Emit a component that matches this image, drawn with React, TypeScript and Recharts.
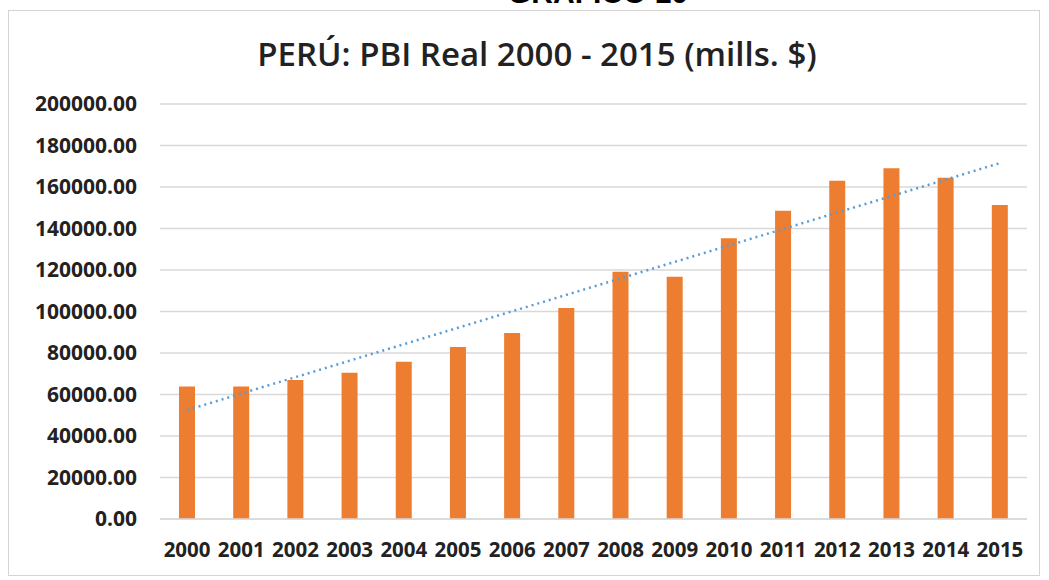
import React from 'react';
import { BarChart, Bar, XAxis, YAxis, CartesianGrid, ReferenceLine } from 'recharts';

const years = ['2000','2001','2002','2003','2004','2005','2006','2007','2008','2009','2010','2011','2012','2013','2014','2015'];
const pbi = [63900, 63900, 67000, 70500, 75800, 82900, 89600, 101700, 119200, 116800, 135300, 148600, 163000, 169000, 164500, 151300];
const yTicks = [0, 20000, 40000, 60000, 80000, 100000, 120000, 140000, 160000, 180000, 200000];
const trendStart = 52500;
const trendEnd = 171500;

const data = years.map((y, i) => ({ year: y, pbi: pbi[i] }));

const FONT = '"Open Sans", "Noto Sans", sans-serif';

export default function App() {
  return (
    <div style={{ position: 'absolute', left: 0, top: 0, width: 1049, height: 580, background: '#fff', overflow: 'hidden' }}>
      <div style={{ position: 'absolute', left: 8, top: 10, width: 1032, height: 566, border: '1.5px solid #d4d4d4', boxSizing: 'border-box' }} />
      <svg width={1049} height={80} style={{ position: 'absolute', left: 0, top: 0 }}>
        <text x={598} y={3} textAnchor="middle" fontFamily='"Liberation Sans", Arial, sans-serif' fontWeight={700} fontSize={30} fill="#000">GRÁFICO 10</text>
        <text x={537} y={66} textAnchor="middle" fontFamily={FONT} fontWeight={600} fontSize={33} fill="#222">PERÚ: PBI Real 2000 - 2015 (mills. $)</text>
      </svg>
      <div style={{ position: 'absolute', left: 0, top: 0 }}>
        <BarChart width={1049} height={580} data={data} margin={{ top: 104, right: 22, left: 0, bottom: 31 }}>
          <CartesianGrid vertical={false} stroke="#d9d9d9" strokeWidth={1.5} />
          <XAxis
            dataKey="year"
            height={30}
            axisLine={{ stroke: '#d9d9d9', strokeWidth: 1.5 }}
            tickLine={false}
            tickSize={0}
            tickMargin={23}
            interval={0}
            tick={{ fill: '#222', fontFamily: FONT, fontWeight: 700, fontSize: 20.5 }}
          />
          <YAxis
            width={160}
            domain={[0, 200000]}
            ticks={yTicks}
            axisLine={false}
            tickLine={false}
            tickSize={0}
            tickMargin={23}
            tickFormatter={(v: number) => v.toFixed(2)}
            tick={{ fill: '#222', fontFamily: FONT, fontWeight: 700, fontSize: 21 }}
          />
          <Bar dataKey="pbi" fill="#ed7d31" barSize={16} isAnimationActive={false} />
          <ReferenceLine
            segment={[{ x: years[0], y: trendStart }, { x: years[years.length - 1], y: trendEnd }]}
            stroke="#5b9bd5"
            strokeWidth={2.5}
            strokeDasharray="2 4"
            ifOverflow="visible"
          />
        </BarChart>
      </div>
    </div>
  );
}
